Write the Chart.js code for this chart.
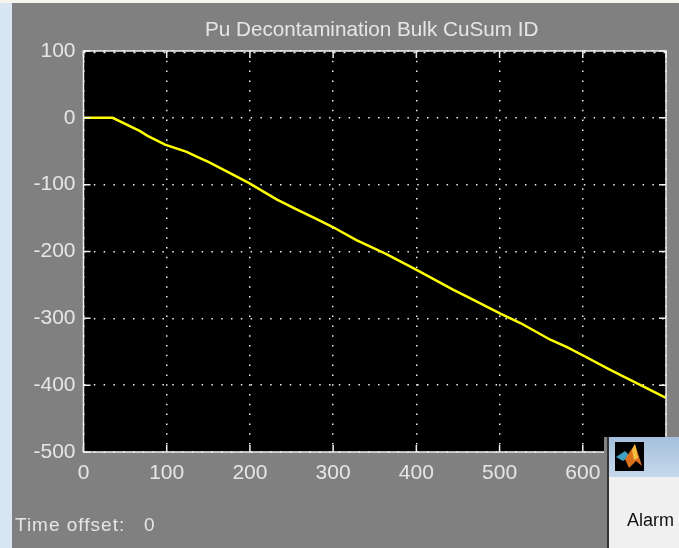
<!DOCTYPE html>
<html>
<head>
<meta charset="utf-8">
<title>Pu Decontamination Bulk CuSum ID</title>
<script src="https://cdn.jsdelivr.net/npm/chart.js@4"></script>
<style>
  html, body { margin: 0; padding: 0; background: #808080; overflow: hidden; }
  #wrap { position: relative; width: 679px; height: 548px; overflow: hidden; }
  #cusum { position: absolute; left: 0; top: 0; filter: blur(.45px); }
  #topStrip { position: absolute; left: 0; top: 0; width: 679px; height: 3px; background: #f6f4ea; }
  #leftStrip { position: absolute; left: 0; top: 3px; width: 12px; height: 545px; background: #d8e5f3; }
  .offset { position: absolute; top: 514px; font: 19px "Liberation Sans", Arial, sans-serif; letter-spacing: 1px; color: #e6e6e6; filter: blur(.35px); }
  #alarmEdge { position: absolute; left: 604px; top: 437px; width: 4px; height: 111px; background: #808080; }
  #alarmWin { position: absolute; left: 607px; top: 437px; width: 70px; height: 111px; background: #f0f0f0; border-left: 2px solid #333; }
  #alarmBar { position: absolute; left: 0; top: 0; width: 100%; height: 40px; background: linear-gradient(#a5c0dd, #c6d8eb); }
  #alarmIcon { position: absolute; left: 6px; top: 5px; width: 29px; height: 29px; background: #000; }
  #alarmText { position: absolute; left: 18px; top: 73px; font: 18px "Liberation Sans", Arial, sans-serif; color: #111; filter: blur(.35px); }
</style>
</head>
<body>
<div id="wrap">
  <canvas id="cusum" width="679" height="548"></canvas>
  <div id="topStrip"></div>
  <div id="leftStrip"></div>
  <div class="offset" style="left:15px">Time offset:</div>
  <div class="offset" style="left:144px">0</div>
  <div id="alarmEdge"></div>
  <div id="alarmWin">
    <div id="alarmBar"></div>
    <svg id="alarmIcon" viewBox="0 0 29 29">
      <path d="M1 15 L10 9 L15 14 L8 19 Z" fill="#3f9fc4"/>
      <path d="M10 17 L20 2 L27 24 L21 19 L14 26 Z" fill="#d9701c"/>
      <path d="M17 8 L20 2 L23 16 L19 18 Z" fill="#f4c040"/>
    </svg>
    <div id="alarmText">Alarm</div>
  </div>
</div>
<script>
const chartTitle = 'Pu Decontamination Bulk CuSum ID';
const timeValues = [0, 35, 68, 77, 98, 124, 136, 150, 172, 198, 232, 256, 276, 299, 328, 364, 398, 444, 465, 501, 525, 561, 581, 601, 633, 700];
const cusumValues = [0, 0, -20, -27, -40, -51, -58, -66, -80, -97, -122, -137, -149, -163, -183, -204, -226, -257, -270, -293, -307, -332, -343, -356, -377, -419];
const xTicks = [0, 100, 200, 300, 400, 500, 600, 700];
const yTicks = [100, 0, -100, -200, -300, -400, -500];

// black plot area, white box, inward tick marks, title centred over the box
const matlabAxes = {
    id: 'matlabAxes',
    beforeDraw(chart) {
        const a = chart.chartArea;
        const ctx = chart.ctx;
        ctx.save();
        ctx.fillStyle = '#000';
        ctx.fillRect(a.left, a.top, a.width, a.height);
        ctx.restore();
    },
    afterDraw(chart) {
        const a = chart.chartArea;
        const ctx = chart.ctx;
        ctx.save();
        ctx.strokeStyle = '#efefef';
        ctx.lineWidth = 1.5;
        ctx.strokeRect(a.left, a.top, a.width, a.height);
        ctx.beginPath();
        xTicks.forEach(v => {
            const px = chart.scales.x.getPixelForValue(v);
            ctx.moveTo(px, a.bottom); ctx.lineTo(px, a.bottom - 7);
            ctx.moveTo(px, a.top); ctx.lineTo(px, a.top + 7);
        });
        yTicks.forEach(v => {
            const py = chart.scales.y.getPixelForValue(v);
            ctx.moveTo(a.left, py); ctx.lineTo(a.left + 7, py);
            ctx.moveTo(a.right, py); ctx.lineTo(a.right - 7, py);
        });
        ctx.stroke();
        // dotted row just under the top edge
        ctx.setLineDash([2, 8]);
        ctx.beginPath();
        ctx.moveTo(a.left, a.top + 1.5);
        ctx.lineTo(a.right, a.top + 1.5);
        ctx.stroke();
        ctx.restore();

        ctx.save();
        ctx.fillStyle = '#e6e6e6';
        ctx.font = '20.7px "Liberation Sans"';
        ctx.textAlign = 'center';
        ctx.textBaseline = 'middle';
        ctx.fillText(chartTitle, (a.left + a.right) / 2 - 3, a.top - 21);
        ctx.restore();
    }
};

new Chart(document.getElementById('cusum'), {
    type: 'line',
    plugins: [matlabAxes],
    data: {
        datasets: [{
            data: timeValues.map((t, i) => ({ x: t, y: cusumValues[i] })),
            borderColor: '#ffff00',
            borderWidth: 2.5,
            pointRadius: 0,
            tension: 0
        }]
    },
    options: {
        responsive: false,
        animation: false,
        layout: { padding: { left: 14, right: 13, top: 51, bottom: 60 } },
        plugins: {
            legend: { display: false },
            tooltip: { enabled: false },
            title: { display: false }
        },
        scales: {
            x: {
                type: 'linear',
                min: 0,
                max: 700,
                afterBuildTicks: s => { s.ticks = xTicks.map(v => ({ value: v })); },
                afterFit: s => { s.height = 36; s.paddingLeft = 0; s.paddingRight = 0; },
                border: { display: false, dash: [1.5, 8.3] },
                grid: { color: '#f0f0f0', lineWidth: 1.5, drawTicks: false },
                ticks: {
                    color: '#e6e6e6',
                    padding: 9,
                    maxRotation: 0,
                    font: { family: '"Liberation Sans"', size: 21 }
                }
            },
            y: {
                min: -500,
                max: 100,
                afterBuildTicks: s => { s.ticks = yTicks.map(v => ({ value: v })); },
                afterFit: s => { s.width = 69.5; },
                border: { display: false, dash: [1.5, 8.3] },
                grid: { color: '#f0f0f0', lineWidth: 1.5, drawTicks: false },
                ticks: {
                    color: '#e6e6e6',
                    padding: 8,
                    font: { family: '"Liberation Sans"', size: 21 }
                }
            }
        }
    }
});
</script>
</body>
</html>
